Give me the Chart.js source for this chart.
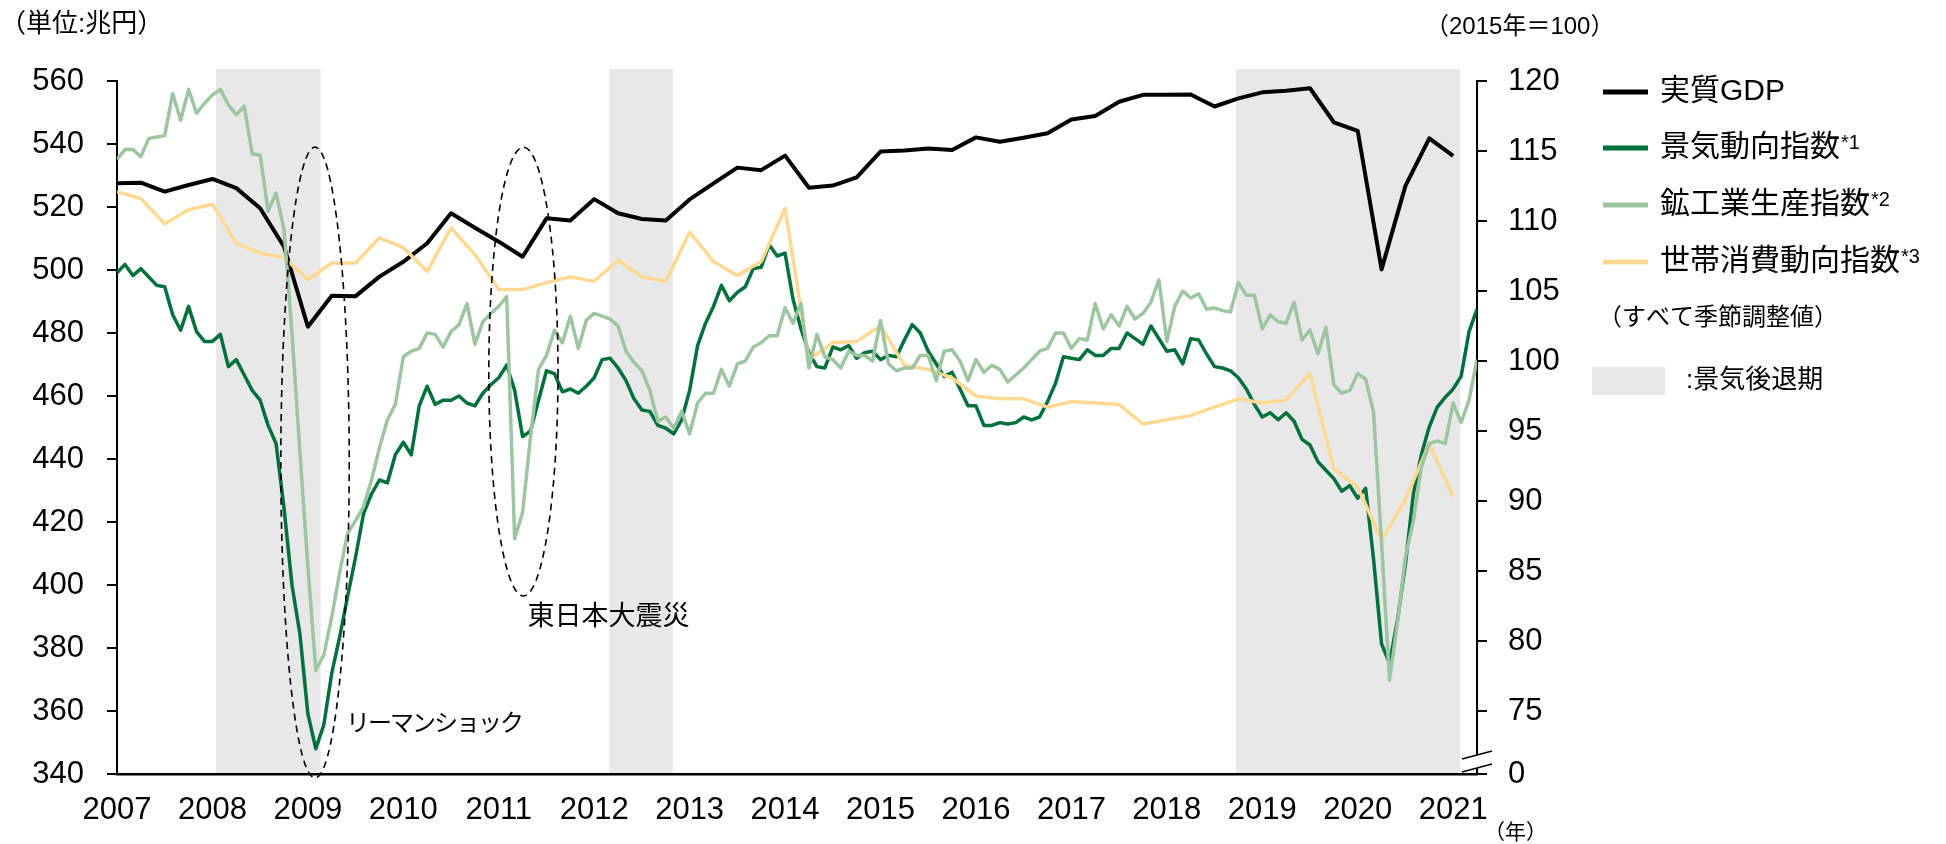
<!DOCTYPE html>
<html lang="ja">
<head>
<meta charset="utf-8">
<title>実質GDPと景気指標の推移</title>
<script src="https://cdn.jsdelivr.net/npm/chart.js@4.4.1/dist/chart.umd.min.js"></script>
<style>
  html, body { margin: 0; padding: 0; background: #fff; }
  #wrap { width: 1946px; height: 844px; }
</style>
</head>
<body>
<div id="wrap"><canvas id="chart" width="1946" height="844"></canvas></div>
<script>
// x = months since Jan 2007 (monthly series), quarterly series sit on months 0, 3, 6, ...
const yearLabels = ['2007', '2008', '2009', '2010', '2011', '2012', '2013', '2014',
    '2015', '2016', '2017', '2018', '2019', '2020', '2021'];
const lastMonth = 171; // Apr 2021

const seriesNames = ['実質GDP', '景気動向指数', '鉱工業生産指数', '世帯消費動向指数'];
const seriesNotes = ['', '*1', '*2', '*3'];

// left axis (兆円)
const gdpTicks = [340, 360, 380, 400, 420, 440, 460, 480, 500, 520, 540, 560];
// right axis (2015年=100), the bottom of the broken axis is labelled 0
const indexTicks = [75, 80, 85, 90, 95, 100, 105, 110, 115, 120];
const indexBreak = 70.5;

// 実質GDP, quarterly, 2007Q1 - 2021Q1
const gdp = [
    527.5, 527.7, 524.9, 527.0,
    528.9, 526.0, 519.6, 507.4,
    482.0, 491.8, 491.7, 497.9,
    502.6, 508.5, 518.0, 513.4,
    509.0, 504.2, 516.4, 515.7,
    522.5, 518.0, 516.2, 515.7,
    522.4, 527.5, 532.5, 531.7,
    536.3, 526.1, 526.8, 529.4,
    537.6, 537.9, 538.6, 538.1,
    542.1, 540.7, 542.0, 543.4,
    547.8, 548.9, 553.4, 555.6,
    555.6, 555.7, 551.9, 554.5,
    556.4, 556.9, 557.7, 546.9,
    544.2, 500.2, 526.7, 541.8,
    536.2
];

// 景気動向指数 (CI一致), monthly, Jan 2007 - Apr 2021
const ci = [
    106.3, 106.9, 106.1, 106.6, 106.0, 105.4, 105.3, 103.3, 102.2, 103.9, 102.1, 101.4,
    101.4, 101.9, 99.6, 100.1, 99.0, 97.9, 97.2, 95.4, 94.1, 89.5, 84.0, 80.5,
    74.8, 72.3, 74.0, 77.7, 80.3, 83.2, 86.0, 89.1, 90.5, 91.5, 91.3, 93.3,
    94.2, 93.3, 96.8, 98.2, 96.9, 97.2, 97.2, 97.5, 97.0, 96.8, 97.7, 98.3,
    98.8, 99.7, 97.9, 94.6, 95.0, 97.2, 99.3, 99.1, 97.8, 98.0, 97.7, 98.2,
    98.8, 100.1, 100.2, 99.5, 98.6, 97.3, 96.5, 96.4, 95.4, 95.2, 94.8, 95.8,
    97.9, 101.1, 102.7, 103.9, 105.4, 104.3, 104.9, 105.3, 106.6, 106.7, 108.3, 107.5,
    107.7, 104.4, 102.3, 100.6, 99.6, 99.5, 101.0, 100.8, 101.1, 100.2, 100.6, 100.7,
    100.1, 100.4, 100.3, 101.5, 102.6, 102.0, 100.7, 99.8, 98.9, 99.2, 98.0, 96.8,
    96.8, 95.4, 95.4, 95.6, 95.5, 95.6, 96.0, 95.8, 96.0, 97.1, 98.4, 100.3,
    100.2, 100.1, 100.8, 100.4, 100.4, 100.9, 100.9, 102.0, 101.6, 101.2, 102.5, 101.6,
    100.7, 100.8, 99.8, 101.6, 101.5, 100.5, 99.6, 99.5, 99.3, 98.8, 98.0, 96.9,
    96.0, 96.3, 95.8, 96.3, 95.7, 94.4, 94.0, 92.8, 92.2, 91.6, 90.7, 91.1,
    90.2, 90.9, 85.8, 79.8, 78.4, 81.5, 85.5, 90.5, 93.3, 95.3, 96.7, 97.4,
    98.0, 98.9, 102.1, 103.7
];

// 鉱工業生産指数, monthly, Jan 2007 - Apr 2021
const iip = [
    114.4, 115.1, 115.1, 114.6, 115.9, 116.0, 116.1, 119.1, 117.2, 119.4, 117.7, 118.4,
    119.0, 119.4, 118.3, 117.6, 118.2, 114.8, 114.7, 110.7, 112.0, 109.4, 102.0, 93.5,
    85.3, 77.9, 79.0, 81.7, 84.9, 87.7, 88.6, 89.6, 91.5, 93.8, 95.8, 96.9,
    100.3, 100.7, 100.9, 102.0, 101.9, 101.0, 102.1, 102.6, 104.1, 101.2, 102.8, 103.4,
    103.9, 104.6, 87.3, 89.2, 94.6, 99.4, 100.4, 102.2, 101.3, 103.2, 100.9, 102.9,
    103.4, 103.2, 103.0, 102.5, 100.7, 99.9, 99.3, 97.9, 95.7, 96.0, 95.2, 96.4,
    94.8, 97.0, 97.7, 97.7, 99.4, 98.2, 99.8, 100.0, 101.0, 101.3, 101.8, 101.8,
    103.8, 102.7, 104.1, 99.5, 101.9, 100.3, 100.1, 99.5, 100.7, 100.4, 100.4, 100.0,
    102.9, 99.8, 99.3, 99.5, 99.5, 100.4, 100.4, 98.6, 100.7, 100.8, 100.0, 98.6,
    100.1, 99.2, 99.7, 99.4, 98.5, 99.0, 99.5, 100.1, 100.7, 100.9, 102.0, 102.0,
    100.9, 101.6, 101.5, 104.1, 102.3, 103.3, 102.5, 103.9, 103.0, 103.4, 104.2, 105.8,
    101.4, 103.9, 105.0, 104.5, 104.8, 103.7, 103.8, 103.6, 103.5, 105.6, 104.7, 104.7,
    102.3, 103.3, 102.8, 102.7, 104.2, 101.5, 102.2, 100.5, 102.4, 98.3, 97.7, 97.9,
    99.1, 98.7, 96.3, 87.0, 77.2, 81.3, 86.0, 88.6, 92.4, 94.1, 94.3, 94.1,
    97.0, 95.6, 97.2, 100.1
];

// 世帯消費動向指数, quarterly, 2007Q1 - 2021Q1
const cti = [
    112.1, 111.6, 109.8, 110.8,
    111.2, 108.4, 107.7, 107.4,
    105.8, 107.0, 107.0, 108.8,
    108.1, 106.4, 109.5, 107.6,
    105.1, 105.1, 105.6, 106.0,
    105.7, 107.2, 106.0, 105.7,
    109.2, 107.1, 106.1, 107.1,
    110.9, 100.1, 101.3, 101.4,
    102.5, 99.7, 99.4, 98.8,
    97.5, 97.3, 97.3, 96.7,
    97.1, 97.0, 96.9, 95.5,
    95.8, 96.1, 96.7, 97.3,
    97.0, 97.2, 99.1, 92.3,
    91.0, 87.2, 90.1, 94.1,
    90.3
];

// recession periods (景気後退期), in months since Jan 2007
const recessions = [[12.45, 25.6], [61.9, 69.9], [140.7, 168.9]];

// dashed call-outs, in data units (month, 兆円)
const shocks = [
    { label: 'リーマンショック', month: 24.9, halfMonths: 4.3, top: 539, bottom: 338.7, textMonth: 28.8, textValue: 355.9, size: 24, spacing: -2 },
    { label: '東日本大震災', month: 51.1, halfMonths: 4.35, top: 539, bottom: 396.5, textMonth: 51.6, textValue: 389.8, size: 27, spacing: 0 }
];

const COLORS = ['#000000', '#00703c', '#9dc6a0', '#ffd992'];
const GRAY = '#e8e8e8';
const FONT_NUM = '"Liberation Sans", Arial, sans-serif';
const FONT_JP = '"Liberation Sans", "Noto Sans CJK JP", sans-serif';

const monthly = arr => arr.map((v, i) => ({ x: i, y: v }));
const quarterly = arr => arr.map((v, k) => ({ x: k * 3, y: v }));

const decor = {
    id: 'decor',
    beforeDraw(chart) {
        const { ctx, chartArea, scales: { x } } = chart;
        ctx.save();
        ctx.fillStyle = GRAY;
        recessions.forEach(([s, e]) => {
            const x0 = x.getPixelForValue(s);
            const x1 = x.getPixelForValue(e);
            ctx.fillRect(x0, chartArea.top - 12, x1 - x0, chartArea.bottom - chartArea.top + 12);
        });
        ctx.restore();
    },
    afterDatasetsDraw(chart) {
        const { ctx, scales: { x, y } } = chart;
        ctx.save();
        shocks.forEach(s => {
            const cx = x.getPixelForValue(s.month);
            const rx = x.getPixelForValue(s.month + s.halfMonths) - cx;
            const yt = y.getPixelForValue(s.top);
            const yb = y.getPixelForValue(s.bottom);
            ctx.beginPath();
            ctx.setLineDash([7, 5]);
            ctx.lineWidth = 1.6;
            ctx.strokeStyle = '#000';
            ctx.ellipse(cx, (yt + yb) / 2, rx, (yb - yt) / 2, 0, 0, Math.PI * 2);
            ctx.stroke();
            ctx.setLineDash([]);
            ctx.fillStyle = '#000';
            ctx.font = s.size + 'px ' + FONT_JP;
            ctx.letterSpacing = s.spacing + 'px';
            ctx.textBaseline = 'middle';
            ctx.textAlign = 'left';
            ctx.fillText(s.label, x.getPixelForValue(s.textMonth), y.getPixelForValue(s.textValue));
            ctx.letterSpacing = '0px';
        });
        ctx.restore();
    },
    afterDraw(chart) {
        const { ctx, chartArea } = chart;
        ctx.save();
        ctx.fillStyle = '#000';
        ctx.textBaseline = 'middle';
        ctx.textAlign = 'left';

        // axis captions
        ctx.font = '26px ' + FONT_JP;
        ctx.fillText('（単位:兆円）', 0, 25);
        ctx.font = '24px ' + FONT_JP;
        ctx.fillText('（2015年＝100）', 1425, 27);
        ctx.font = '21px ' + FONT_JP;
        ctx.fillText('（年）', 1484, 833);

        // broken right axis
        const ax = chartArea.right, ab = chartArea.bottom;
        ctx.fillStyle = '#fff';
        ctx.beginPath();
        ctx.moveTo(ax - 15, ab - 15);
        ctx.lineTo(ax + 15, ab - 23);
        ctx.lineTo(ax + 15, ab - 10);
        ctx.lineTo(ax - 15, ab - 2);
        ctx.closePath();
        ctx.fill();
        ctx.strokeStyle = '#000';
        ctx.lineWidth = 1.6;
        ctx.beginPath();
        ctx.moveTo(ax - 15, ab - 15);
        ctx.lineTo(ax + 15, ab - 23);
        ctx.moveTo(ax - 15, ab - 2);
        ctx.lineTo(ax + 15, ab - 10);
        ctx.stroke();

        // legend
        const rows = [92, 148, 205, 262];
        seriesNames.forEach((name, k) => {
            const ry = rows[k];
            ctx.strokeStyle = COLORS[k];
            ctx.lineWidth = 5;
            ctx.beginPath();
            ctx.moveTo(1603, ry);
            ctx.lineTo(1648, ry);
            ctx.stroke();
            ctx.fillStyle = '#000';
            ctx.font = '30px ' + FONT_JP;
            ctx.textBaseline = 'middle';
            ctx.fillText(name, 1660, ry);
            if (seriesNotes[k]) {
                const w = ctx.measureText(name).width;
                ctx.font = '20px ' + FONT_NUM;
                ctx.textBaseline = 'top';
                ctx.fillText(seriesNotes[k], 1660 + w + 1, ry - 15);
            }
        });
        ctx.textBaseline = 'middle';
        ctx.font = '24px ' + FONT_JP;
        ctx.fillText('（すべて季節調整値）', 1598, 318);
        ctx.fillStyle = GRAY;
        ctx.fillRect(1592, 367, 73, 28);
        ctx.fillStyle = '#000';
        ctx.font = '26px ' + FONT_JP;
        ctx.fillText(':景気後退期', 1686, 381);
        ctx.restore();
    }
};

const tickFont = { family: FONT_NUM, size: 31 };

new Chart(document.getElementById('chart'), {
    type: 'line',
    data: {
        datasets: [
            { label: seriesNames[2], data: monthly(iip), yAxisID: 'y1', borderColor: COLORS[2], borderWidth: 3.5 },
            { label: seriesNames[3], data: quarterly(cti), yAxisID: 'y1', borderColor: COLORS[3], borderWidth: 3.5 },
            { label: seriesNames[1], data: monthly(ci), yAxisID: 'y1', borderColor: COLORS[1], borderWidth: 3.5 },
            { label: seriesNames[0], data: quarterly(gdp), yAxisID: 'y', borderColor: COLORS[0], borderWidth: 4 }
        ]
    },
    options: {
        responsive: false,
        devicePixelRatio: 1,
        animation: false,
        layout: { padding: { top: 81, left: 0, right: 0, bottom: 0 } },
        elements: {
            point: { radius: 0 },
            line: { tension: 0, fill: false, borderJoinStyle: 'round' }
        },
        plugins: {
            legend: { display: false },
            tooltip: { enabled: false }
        },
        scales: {
            x: {
                type: 'linear',
                min: 0,
                max: lastMonth,
                afterBuildTicks: s => { s.ticks = yearLabels.map((_, k) => ({ value: k * 12 })); },
                afterFit: s => { s.height = 70; },
                ticks: {
                    font: tickFont, color: '#000', padding: 18, maxRotation: 0, autoSkip: false,
                    callback: v => yearLabels[Math.round(v / 12)]
                },
                grid: { drawOnChartArea: false, drawTicks: false },
                border: { color: '#000', width: 2.5 }
            },
            y: {
                position: 'left',
                min: gdpTicks[0],
                max: gdpTicks[gdpTicks.length - 1],
                afterBuildTicks: s => { s.ticks = gdpTicks.map(v => ({ value: v })); },
                afterFit: s => { s.width = 117; },
                ticks: { font: tickFont, color: '#000', padding: 23 },
                grid: { drawOnChartArea: false, tickLength: 10, color: '#000', lineWidth: 2 },
                border: { color: '#000', width: 2 }
            },
            y1: {
                position: 'right',
                min: indexBreak,
                max: indexTicks[indexTicks.length - 1],
                afterBuildTicks: s => { s.ticks = [indexBreak, ...indexTicks].map(v => ({ value: v })); },
                afterFit: s => { s.width = 469; },
                ticks: {
                    font: tickFont, color: '#000', padding: 21,
                    callback: v => (v === indexBreak ? '0' : v)
                },
                grid: { drawOnChartArea: false, tickLength: 10, color: '#000', lineWidth: 2 },
                border: { color: '#000', width: 2 }
            }
        }
    },
    plugins: [decor]
});
</script>
</body>
</html>
